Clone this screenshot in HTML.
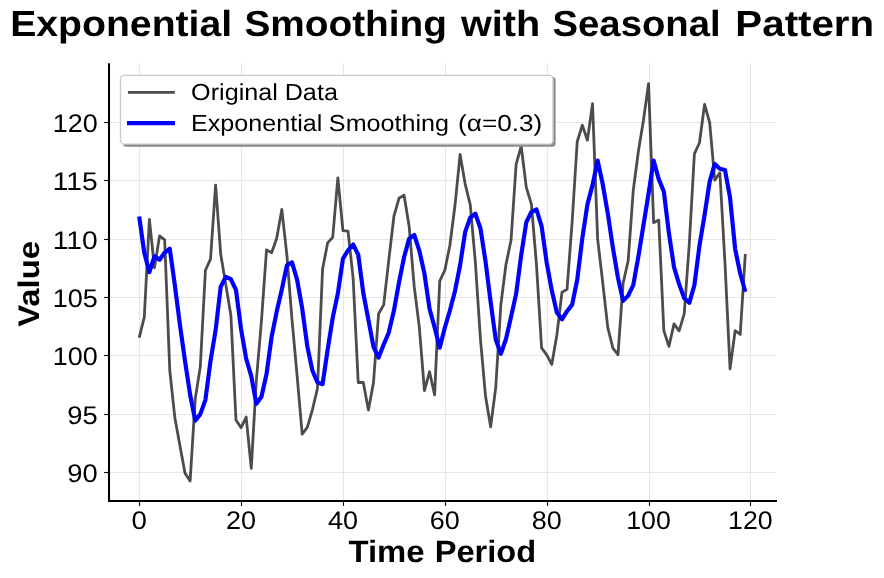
<!DOCTYPE html>
<html><head><meta charset="utf-8"><title>Exponential Smoothing</title>
<style>
html,body{margin:0;padding:0;background:#fff;}
body{width:884px;height:578px;overflow:hidden;}
svg{display:block;}
text{font-family:"Liberation Sans",sans-serif;fill:#000;text-rendering:geometricPrecision;}
svg{will-change:transform;}
</style></head><body>
<svg width="884" height="578" viewBox="0 0 884 578">
<rect width="884" height="578" fill="#fff"/>
<line x1="139.50" x2="139.50" y1="63.2" y2="501.0" stroke="#b0b0b0" stroke-opacity="0.3" stroke-width="1.05"/>
<line x1="241.50" x2="241.50" y1="63.2" y2="501.0" stroke="#b0b0b0" stroke-opacity="0.3" stroke-width="1.05"/>
<line x1="343.50" x2="343.50" y1="63.2" y2="501.0" stroke="#b0b0b0" stroke-opacity="0.3" stroke-width="1.05"/>
<line x1="445.50" x2="445.50" y1="63.2" y2="501.0" stroke="#b0b0b0" stroke-opacity="0.3" stroke-width="1.05"/>
<line x1="547.50" x2="547.50" y1="63.2" y2="501.0" stroke="#b0b0b0" stroke-opacity="0.3" stroke-width="1.05"/>
<line x1="649.50" x2="649.50" y1="63.2" y2="501.0" stroke="#b0b0b0" stroke-opacity="0.3" stroke-width="1.05"/>
<line x1="750.50" x2="750.50" y1="63.2" y2="501.0" stroke="#b0b0b0" stroke-opacity="0.3" stroke-width="1.05"/>
<line x1="109.0" x2="776.0" y1="472.50" y2="472.50" stroke="#b0b0b0" stroke-opacity="0.3" stroke-width="1.05"/>
<line x1="109.0" x2="776.0" y1="414.50" y2="414.50" stroke="#b0b0b0" stroke-opacity="0.3" stroke-width="1.05"/>
<line x1="109.0" x2="776.0" y1="355.50" y2="355.50" stroke="#b0b0b0" stroke-opacity="0.3" stroke-width="1.05"/>
<line x1="109.0" x2="776.0" y1="297.50" y2="297.50" stroke="#b0b0b0" stroke-opacity="0.3" stroke-width="1.05"/>
<line x1="109.0" x2="776.0" y1="239.50" y2="239.50" stroke="#b0b0b0" stroke-opacity="0.3" stroke-width="1.05"/>
<line x1="109.0" x2="776.0" y1="180.50" y2="180.50" stroke="#b0b0b0" stroke-opacity="0.3" stroke-width="1.05"/>
<line x1="109.0" x2="776.0" y1="122.50" y2="122.50" stroke="#b0b0b0" stroke-opacity="0.3" stroke-width="1.05"/>
<path d="M139.20,337.71 L144.29,317.17 L149.39,219.52 L154.48,267.82 L159.57,235.85 L164.67,239.82 L169.76,370.26 L174.85,417.63 L179.95,445.63 L185.04,473.16 L190.13,480.98 L195.23,398.96 L200.32,366.52 L205.42,270.27 L210.51,259.07 L215.60,185.22 L220.70,254.05 L225.79,284.62 L230.88,315.19 L235.98,420.08 L241.07,427.66 L246.16,417.04 L251.26,468.38 L256.35,380.29 L261.44,320.79 L266.54,249.85 L271.63,252.77 L276.72,238.30 L281.82,209.49 L286.91,255.45 L292.00,319.62 L297.10,375.62 L302.19,434.19 L307.29,427.43 L312.38,409.92 L317.47,388.46 L322.57,269.10 L327.66,242.85 L332.75,237.25 L337.85,177.98 L342.94,230.60 L348.03,231.07 L353.13,278.20 L358.22,382.51 L363.31,382.51 L368.41,410.04 L373.50,382.51 L378.59,313.79 L383.69,304.92 L388.78,260.12 L393.88,216.49 L398.97,198.29 L404.06,195.25 L409.16,226.52 L414.25,286.95 L419.34,327.44 L424.44,390.56 L429.53,371.77 L434.62,394.99 L439.72,281.12 L444.81,270.27 L449.90,245.30 L455.00,205.29 L460.09,154.53 L465.18,184.05 L470.28,204.82 L475.37,262.45 L480.46,339.46 L485.56,396.27 L490.65,426.84 L495.74,387.52 L500.84,304.92 L505.93,264.79 L511.03,240.29 L516.12,164.45 L521.21,146.25 L526.31,187.32 L531.40,204.12 L536.49,264.79 L541.59,347.86 L546.68,354.86 L551.77,364.42 L556.87,335.02 L561.96,292.32 L567.05,289.40 L572.15,221.62 L577.24,141.47 L582.33,125.25 L587.43,140.18 L592.52,103.67 L597.62,238.89 L602.71,282.29 L607.80,327.56 L612.90,348.09 L617.99,354.62 L623.08,283.45 L628.18,260.59 L633.27,190.24 L638.36,151.50 L643.46,120.23 L648.55,83.60 L653.64,222.67 L658.74,220.10 L663.83,330.59 L668.92,346.34 L674.02,323.82 L679.11,330.82 L684.20,313.79 L689.30,243.79 L694.39,153.95 L699.48,142.75 L704.58,104.37 L709.67,122.68 L714.77,180.20 L719.86,172.73 L724.95,262.45 L730.05,368.86 L735.14,330.59 L740.23,334.32 L745.33,253.82" fill="none" stroke="#000" stroke-opacity="0.7" stroke-width="2.8" stroke-linejoin="round" stroke-linecap="butt"/>
<path d="M139.20,216.49 L144.29,252.85 L149.39,272.15 L154.48,256.22 L159.57,259.70 L164.67,252.55 L169.76,248.73 L174.85,285.19 L179.95,324.92 L185.04,361.13 L190.13,394.74 L195.23,420.61 L200.32,414.11 L205.42,399.84 L210.51,360.97 L215.60,330.40 L220.70,286.70 L225.79,276.91 L230.88,279.22 L235.98,290.01 L241.07,329.03 L246.16,358.62 L251.26,376.15 L256.35,403.82 L261.44,396.76 L266.54,373.97 L271.63,336.73 L276.72,311.54 L281.82,289.57 L286.91,265.41 L292.00,262.42 L297.10,279.58 L302.19,308.39 L307.29,346.13 L312.38,370.52 L317.47,382.34 L322.57,384.18 L327.66,349.66 L332.75,317.61 L337.85,293.51 L342.94,258.71 L348.03,250.28 L353.13,244.52 L358.22,254.62 L363.31,292.99 L368.41,319.84 L373.50,346.90 L378.59,357.58 L383.69,344.45 L388.78,332.59 L393.88,310.85 L398.97,282.54 L404.06,257.26 L409.16,238.66 L414.25,235.02 L419.34,250.60 L424.44,273.65 L429.53,308.72 L434.62,327.50 L439.72,347.75 L444.81,327.76 L449.90,310.51 L455.00,290.95 L460.09,265.25 L465.18,231.90 L470.28,217.54 L475.37,213.73 L480.46,228.34 L485.56,261.68 L490.65,302.06 L495.74,339.49 L500.84,353.90 L505.93,339.21 L511.03,316.88 L516.12,293.90 L521.21,255.07 L526.31,222.28 L531.40,211.79 L536.49,209.49 L541.59,226.08 L546.68,262.61 L551.77,290.29 L556.87,312.53 L561.96,319.28 L567.05,311.19 L572.15,304.65 L577.24,279.74 L582.33,238.26 L587.43,204.36 L592.52,185.11 L597.62,160.53 L602.71,184.04 L607.80,213.51 L612.90,247.73 L617.99,277.84 L623.08,300.87 L628.18,295.65 L633.27,285.13 L638.36,256.66 L643.46,225.11 L648.55,193.65 L653.64,160.49 L658.74,179.15 L663.83,191.43 L668.92,233.18 L674.02,267.13 L679.11,284.14 L684.20,298.14 L689.30,302.84 L694.39,285.12 L699.48,245.77 L704.58,214.86 L709.67,181.57 L714.77,163.91 L719.86,168.80 L724.95,169.98 L730.05,197.72 L735.14,249.06 L740.23,273.52 L745.33,291.76" fill="none" stroke="#0000ff" stroke-width="4.17" stroke-linejoin="round" stroke-linecap="butt"/>
<line x1="109.0" x2="109.0" y1="63.2" y2="502.04" stroke="#000" stroke-width="2.08"/>
<line x1="107.96" x2="777.0" y1="501.0" y2="501.0" stroke="#000" stroke-width="2.08"/>
<line x1="139.50" x2="139.50" y1="501.0" y2="505.9" stroke="#000" stroke-width="1.1"/>
<line x1="241.50" x2="241.50" y1="501.0" y2="505.9" stroke="#000" stroke-width="1.1"/>
<line x1="343.50" x2="343.50" y1="501.0" y2="505.9" stroke="#000" stroke-width="1.1"/>
<line x1="445.50" x2="445.50" y1="501.0" y2="505.9" stroke="#000" stroke-width="1.1"/>
<line x1="547.50" x2="547.50" y1="501.0" y2="505.9" stroke="#000" stroke-width="1.1"/>
<line x1="649.50" x2="649.50" y1="501.0" y2="505.9" stroke="#000" stroke-width="1.1"/>
<line x1="750.50" x2="750.50" y1="501.0" y2="505.9" stroke="#000" stroke-width="1.1"/>
<line x1="104.1" x2="109.0" y1="472.50" y2="472.50" stroke="#000" stroke-width="1.1"/>
<line x1="104.1" x2="109.0" y1="414.50" y2="414.50" stroke="#000" stroke-width="1.1"/>
<line x1="104.1" x2="109.0" y1="355.50" y2="355.50" stroke="#000" stroke-width="1.1"/>
<line x1="104.1" x2="109.0" y1="297.50" y2="297.50" stroke="#000" stroke-width="1.1"/>
<line x1="104.1" x2="109.0" y1="239.50" y2="239.50" stroke="#000" stroke-width="1.1"/>
<line x1="104.1" x2="109.0" y1="180.50" y2="180.50" stroke="#000" stroke-width="1.1"/>
<line x1="104.1" x2="109.0" y1="122.50" y2="122.50" stroke="#000" stroke-width="1.1"/>
<text x="131.50" y="529.0" font-size="25.5" textLength="15.4" lengthAdjust="spacingAndGlyphs">0</text>
<text x="226.07" y="529.0" font-size="25.5" textLength="30.0" lengthAdjust="spacingAndGlyphs">20</text>
<text x="327.94" y="529.0" font-size="25.5" textLength="30.0" lengthAdjust="spacingAndGlyphs">40</text>
<text x="429.81" y="529.0" font-size="25.5" textLength="30.0" lengthAdjust="spacingAndGlyphs">60</text>
<text x="531.68" y="529.0" font-size="25.5" textLength="30.0" lengthAdjust="spacingAndGlyphs">80</text>
<text x="626.25" y="529.0" font-size="25.5" textLength="44.6" lengthAdjust="spacingAndGlyphs">100</text>
<text x="728.12" y="529.0" font-size="25.5" textLength="44.6" lengthAdjust="spacingAndGlyphs">120</text>
<text x="67.30" y="481.90" font-size="25.5" textLength="30.4" lengthAdjust="spacingAndGlyphs">90</text>
<text x="67.30" y="423.90" font-size="25.5" textLength="30.4" lengthAdjust="spacingAndGlyphs">95</text>
<text x="52.70" y="364.90" font-size="25.5" textLength="45.0" lengthAdjust="spacingAndGlyphs">100</text>
<text x="52.70" y="306.90" font-size="25.5" textLength="45.0" lengthAdjust="spacingAndGlyphs">105</text>
<text x="52.70" y="248.90" font-size="25.5" textLength="45.0" lengthAdjust="spacingAndGlyphs">110</text>
<text x="52.70" y="189.90" font-size="25.5" textLength="45.0" lengthAdjust="spacingAndGlyphs">115</text>
<text x="52.70" y="131.90" font-size="25.5" textLength="45.0" lengthAdjust="spacingAndGlyphs">120</text>
<text transform="translate(39.1,326.8) rotate(-90)" x="0" y="0" font-size="29.8" font-weight="bold" textLength="85.8" lengthAdjust="spacingAndGlyphs">Value</text>
<rect x="123" y="76.8" width="432.6" height="70.0" rx="3.6" fill="#8a8a8a"/>
<rect x="120.5" y="75.4" width="432.5" height="68.7" rx="3.6" fill="#fff" stroke="#cccccc" stroke-width="1.4"/>
<line x1="129.3" x2="173.4" y1="92.4" y2="92.4" stroke="#4d4d4d" stroke-width="2.8" stroke-linecap="square"/>
<line x1="129.1" x2="172.9" y1="123.05" y2="123.05" stroke="#0000ff" stroke-width="4.17" stroke-linecap="square"/>
<text x="10.23" y="35.9" font-size="36.3" font-weight="bold" textLength="221.93" lengthAdjust="spacingAndGlyphs">Exponential</text>
<text x="244.51" y="35.9" font-size="36.3" font-weight="bold" textLength="202.39" lengthAdjust="spacingAndGlyphs">Smoothing</text>
<text x="460.95" y="35.9" font-size="36.3" font-weight="bold" textLength="79.21" lengthAdjust="spacingAndGlyphs">with</text>
<text x="552.50" y="35.9" font-size="36.3" font-weight="bold" textLength="168.14" lengthAdjust="spacingAndGlyphs">Seasonal</text>
<text x="735.38" y="35.9" font-size="36.3" font-weight="bold" textLength="138.79" lengthAdjust="spacingAndGlyphs">Pattern</text>
<text x="191.12" y="100.1" font-size="23.2" textLength="86.71" lengthAdjust="spacingAndGlyphs">Original</text>
<text x="284.67" y="100.1" font-size="23.2" textLength="53.25" lengthAdjust="spacingAndGlyphs">Data</text>
<text x="191.05" y="131.0" font-size="23.2" textLength="131.26" lengthAdjust="spacingAndGlyphs">Exponential</text>
<text x="328.88" y="131.0" font-size="23.2" textLength="120.21" lengthAdjust="spacingAndGlyphs">Smoothing</text>
<text x="458.09" y="131.0" font-size="23.2" textLength="84.11" lengthAdjust="spacingAndGlyphs">(α=0.3)</text>
<text x="348.47" y="562.0" font-size="30.8" font-weight="bold" textLength="76.05" lengthAdjust="spacingAndGlyphs">Time</text>
<text x="434.69" y="562.0" font-size="30.8" font-weight="bold" textLength="101.54" lengthAdjust="spacingAndGlyphs">Period</text>
</svg>
</body></html>
